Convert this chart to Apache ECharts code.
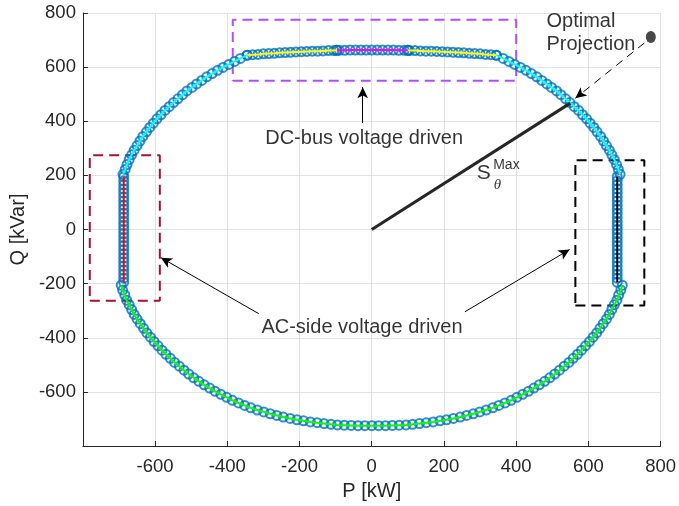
<!DOCTYPE html>
<html><head><meta charset="utf-8">
<script src="https://cdn.jsdelivr.net/npm/echarts@6/dist/echarts.min.js"></script>
<style>html,body{margin:0;padding:0;background:#fff}#c{width:679px;height:506px}</style>
</head><body><div id="c"></div>
<script>
// ---- data (P [kW], Q [kVar]) ----
const axisMin = -800, axisMax = 800, tickStep = 200;

const cyanRight = [[688,204],[683,222],[678,240],[672,258],[665,276],[658,293],[650,310],[642,327],[634,344],[624,361],[615,377],[605,393],[595,409],[584,424],[573,440],[561,454],[549,469],[537,483],[524,498],[512,512],[498,525],[485,538],[471,551],[457,564],[442,576],[427,588],[412,599],[396,610],[380,621],[364,632],[345,644]];
const yellowRight = [[345,644],[330,646],[315,647],[300,649],[285,650],[270,651],[255,653],[240,654],[225,655],[210,656],[195,657],[180,658],[165,659],[150,659],[135,660],[120,661],[105,661],[100,662]];
const magentaTop = [[100,662],[90,662],[75,662],[60,663],[45,663],[30,663],[15,663],[0,663],[-15,663],[-30,663],[-45,663],[-60,663],[-75,662],[-90,662],[-97,662]];
const yellowLeft = [[-97,662],[-105,661],[-120,661],[-135,660],[-150,659],[-165,659],[-180,658],[-195,657],[-210,656],[-225,655],[-240,654],[-255,653],[-270,651],[-285,650],[-300,649],[-315,647],[-330,646],[-345,644]];
const cyanLeft = [[-345,644],[-364,632],[-380,621],[-396,610],[-412,599],[-427,588],[-442,576],[-457,564],[-471,551],[-485,538],[-498,525],[-512,512],[-524,498],[-537,483],[-549,469],[-561,454],[-573,440],[-584,424],[-595,409],[-605,393],[-615,377],[-624,361],[-634,344],[-642,327],[-650,310],[-658,293],[-665,276],[-672,258],[-678,240],[-683,222],[-689,204]];
const redLeft = [[-687,195],[-687,180],[-687,165],[-687,150],[-687,135],[-687,120],[-687,105],[-687,90],[-687,75],[-687,60],[-687,45],[-687,30],[-687,15],[-687,0],[-687,-15],[-687,-30],[-687,-45],[-687,-60],[-687,-75],[-687,-90],[-687,-105],[-687,-120],[-687,-135],[-687,-150],[-687,-165],[-687,-180],[-687,-195]];
const blackRight = [[680,195],[680,180],[680,165],[680,150],[680,135],[680,120],[680,105],[680,90],[680,75],[680,60],[680,45],[680,30],[680,15],[680,0],[680,-15],[680,-30],[680,-45],[680,-60],[680,-75],[680,-90],[680,-105],[680,-120],[680,-135],[680,-150],[680,-165],[680,-180],[680,-195]];
const greenBottom = [[-694,-206],[-690,-224],[-684,-242],[-679,-261],[-672,-278],[-665,-296],[-658,-314],[-650,-331],[-641,-348],[-632,-365],[-623,-382],[-613,-398],[-603,-414],[-592,-430],[-581,-446],[-570,-461],[-558,-476],[-546,-491],[-533,-505],[-520,-520],[-507,-534],[-493,-548],[-479,-561],[-464,-574],[-449,-586],[-434,-598],[-418,-609],[-402,-620],[-386,-631],[-369,-641],[-352,-650],[-335,-659],[-317,-667],[-299,-674],[-281,-681],[-263,-687],[-245,-693],[-226,-698],[-207,-703],[-189,-707],[-170,-711],[-151,-714],[-132,-717],[-113,-720],[-95,-722],[-76,-723],[-57,-724],[-38,-725],[-19,-725],[0,-725],[19,-725],[38,-725],[57,-724],[76,-723],[95,-722],[113,-720],[132,-717],[151,-714],[170,-711],[189,-707],[207,-703],[226,-698],[245,-693],[263,-687],[281,-681],[299,-674],[317,-667],[335,-659],[352,-650],[369,-641],[386,-631],[402,-620],[418,-609],[434,-598],[449,-586],[464,-574],[479,-561],[493,-548],[507,-534],[520,-520],[533,-505],[546,-491],[558,-476],[570,-461],[581,-446],[592,-430],[603,-414],[613,-398],[623,-382],[632,-365],[641,-348],[650,-331],[658,-314],[665,-296],[672,-278],[679,-261],[684,-242],[690,-224],[694,-206]];

const sMaxLine = [[0,0],[550,467]];
const optimalPoint = [[773,711]];

const boxDC = [[-385,550],[400,550],[400,775],[-385,775],[-385,550]];
const boxACLeft = [[-781,-263],[-587,-263],[-587,274],[-781,274],[-781,-263]];
const boxACRight = [[564,-281],[755,-281],[755,256],[564,256],[564,-281]];

const arrowDC = [[-25,393],[-25,526]];
const arrowACLeft = [[-313,-311],[-584,-104]];
const arrowACRight = [[258,-304],[548,-74]];
const arrowOpt = [[755,689],[564,485]];

const textDC = {text:'DC-bus voltage driven', at:[-21,337]};
const textAC = {text:'AC-side voltage driven', at:[-27,-363]};
const textOpt = {text:'Optimal\nProjection', at:[484,726]};
const textS = {text:'S', at:[310,207]};
const textMax = {text:'Max', at:[373,237]};
const textTheta = {text:'θ', at:[348,163]};

// ---- chart ----
const FONT = "'Liberation Sans', Arial, Helvetica, sans-serif";
const AX = '#262626';
const chart = echarts.init(document.getElementById('c'));

function seg(data, color, width, z, dash) {
  return {type:'line', data, symbol:'none', z, silent:true, animation:false,
    lineStyle:{color, width, type: dash || 'solid'}};
}
function arrow(pts, dash) {
  return {type:'line', data:[], silent:true, animation:false, z:6,
    markLine:{silent:true, animation:false, symbol:['none','arrow'], symbolSize:[8,11],
      label:{show:false}, lineStyle:{color:'#000', width:1, type: dash || 'solid'},
      emphasis:{disabled:true},
      data:[[{coord:pts[0]},{coord:pts[1]}]]}};
}
function label(t, style) {
  return {type:'scatter', silent:true, animation:false, z:7, symbolSize:1,
    itemStyle:{color:'rgba(0,0,0,0)'},
    data:[{value:t.at, label:Object.assign({show:true, position:'inside', formatter:t.text,
      color:'#000', fontFamily:FONT, fontSize:20}, style)}]};
}

const allPts = [].concat(cyanRight, yellowRight, magentaTop, yellowLeft, cyanLeft, redLeft, blackRight, greenBottom);

chart.setOption({
  backgroundColor:'#fff',
  animation:false,
  grid:{left:78, right:15, top:13, bottom:60, containLabel:false},
  xAxis:{type:'value', min:axisMin, max:axisMax, interval:tickStep,
    name:'P [kW]', nameLocation:'middle', nameGap:35,
    nameTextStyle:{color:AX, fontFamily:FONT, fontSize:20},
    axisLine:{show:true, onZero:false, lineStyle:{color:AX, width:1}},
    axisTick:{show:true, inside:true, length:5, lineStyle:{color:AX}},
    axisLabel:{color:AX, fontFamily:FONT, fontSize:18.5, margin:11,
      formatter:v => v === axisMin ? '' : String(v)},
    splitLine:{show:true, lineStyle:{color:'#e3e3e3', width:1}}},
  yAxis:{type:'value', min:axisMin, max:axisMax, interval:tickStep,
    name:'Q [kVar]', nameLocation:'middle', nameGap:51,
    nameTextStyle:{color:AX, fontFamily:FONT, fontSize:20},
    axisLine:{show:true, onZero:false, lineStyle:{color:AX, width:1}},
    axisTick:{show:true, inside:true, length:5, lineStyle:{color:AX}},
    axisLabel:{color:AX, fontFamily:FONT, fontSize:18.5, margin:7,
      formatter:v => v === axisMin ? '' : String(v)},
    splitLine:{show:true, lineStyle:{color:'#e3e3e3', width:1}}},
  series:[
    seg(boxDC, '#B34DFF', 2, 2, [10,6]),
    seg(boxACLeft, '#A2142F', 2, 2, [10,6]),
    seg(boxACRight, '#000000', 2, 2, [10,6]),
    {type:'scatter', data:allPts, symbol:'circle', symbolSize:9, z:3, silent:true, animation:false,
      itemStyle:{color:'rgba(0,0,0,0)', borderColor:'#0072BD', borderWidth:2}},
    seg(cyanRight, '#00FFFF', 2, 4),
    seg(yellowRight, '#FFFF00', 2, 4),
    seg(magentaTop, '#FF00FF', 2, 4),
    seg(yellowLeft, '#FFFF00', 2, 4),
    seg(cyanLeft, '#00FFFF', 2, 4),
    seg(redLeft, '#FF0000', 2, 4),
    seg(blackRight, '#000000', 2, 4),
    seg(greenBottom, '#00FF00', 2, 4),
    seg(sMaxLine, '#262626', 3, 5),
    {type:'scatter', data:optimalPoint, symbol:'circle', symbolSize:[10,12], z:5, silent:true, animation:false,
      itemStyle:{color:'#1a1a1a'}},
    arrow(arrowDC), arrow(arrowACLeft), arrow(arrowACRight), arrow(arrowOpt, [8,6]),
    label(textDC, {}),
    label(textAC, {}),
    label(textOpt, {align:'left', lineHeight:23}),
    label(textS, {fontSize:21}),
    label(textMax, {fontSize:14}),
    label(textTheta, {fontSize:15, fontStyle:'italic', fontFamily:"'Liberation Serif', 'DejaVu Serif', serif"})
  ]
});
</script></body></html>
